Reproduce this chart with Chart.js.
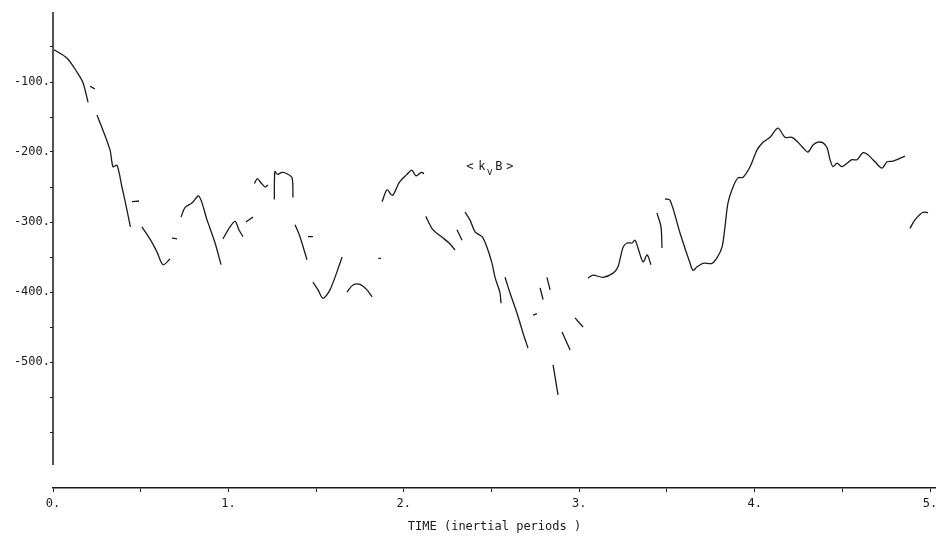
<!DOCTYPE html>
<html>
<head>
<meta charset="utf-8">
<script src="https://cdn.jsdelivr.net/npm/chart.js@4"></script>
<style>
  html, body { margin: 0; padding: 0; background: #fff; }
  #wrap { width: 936px; height: 537px; position: relative; }
</style>
</head>
<body>
<div id="wrap"><canvas id="kvbChart"></canvas></div>
<script>
// time in inertial periods; null in kvb = pen lifted (gap in the trace)
const times = [
  0.006, 0.08, 0.137, 0.171, 0.2, 0.205,
  0.211, 0.239, 0.245,
  0.251, 0.325, 0.342, 0.365, 0.393, 0.41, 0.425, 0.441, 0.445,
  0.45, 0.49, 0.5,
  0.507, 0.564, 0.593, 0.627, 0.667, 0.672,
  0.678, 0.707, 0.72,
  0.73, 0.753, 0.792, 0.832, 0.878, 0.924, 0.958, 0.963,
  0.969, 1.009, 1.038, 1.06, 1.083, 1.09,
  1.1, 1.14, 1.144,
  1.148, 1.165, 1.185, 1.21, 1.225, 1.24,
  1.262, 1.265, 1.28, 1.306, 1.334, 1.363, 1.368, 1.374,
  1.38, 1.408, 1.448, 1.451,
  1.454, 1.482, 1.482,
  1.482, 1.511, 1.539, 1.579, 1.636, 1.648, 1.66,
  1.676, 1.71, 1.75, 1.79, 1.819, 1.84,
  1.855, 1.87, 1.873,
  1.876, 1.905, 1.935, 1.975, 2.018, 2.045, 2.07, 2.1, 2.115, 2.12,
  2.125, 2.166, 2.224, 2.258, 2.292, 2.298,
  2.303, 2.332, 2.34,
  2.349, 2.377, 2.406, 2.446, 2.474, 2.503, 2.52, 2.548, 2.554, 2.565,
  2.577, 2.605, 2.645, 2.68, 2.708, 2.72,
  2.737, 2.759, 2.77,
  2.777, 2.794, 2.805,
  2.816, 2.834, 2.84,
  2.851, 2.879, 2.89,
  2.902, 2.948, 2.96,
  2.976, 3.022, 3.035,
  3.05, 3.079, 3.136, 3.193, 3.221, 3.25, 3.273, 3.301, 3.318, 3.335, 3.364, 3.387, 3.409, 3.425,
  3.443, 3.466, 3.472, 3.48,
  3.489, 3.518, 3.575, 3.632, 3.649, 3.672, 3.706, 3.757, 3.786, 3.814, 3.831, 3.848, 3.877,
  3.905, 3.934, 3.974, 4.014, 4.048, 4.088, 4.133, 4.173, 4.213, 4.247, 4.276, 4.304, 4.333,
  4.361, 4.39, 4.413, 4.43, 4.447, 4.47, 4.498, 4.527, 4.555, 4.584, 4.618, 4.646, 4.686,
  4.726, 4.755, 4.789, 4.829, 4.857, 4.87,
  4.886, 4.914, 4.96, 4.989
];
const kvb = [
  -54, -66, -86, -101, -129, null,
  -106, -110, null,
  -147, -197, -221, -219, -250, -269, -287, -307, null,
  -271, -270, null,
  -307, -329, -343, -361, -353, null,
  -323, -324, null,
  -293, -279, -273, -263, -297, -330, -361, null,
  -324, -307, -299, -311, -321, null,
  -300, -293, null,
  -245, -238, -244, -250, -247, null,
  -268, -228, -232, -229, -231, -237, -265, null,
  -304, -321, -354, null,
  -321, -321, null,
  -386, -397, -409, -397, -359, -350, null,
  -400, -390, -389, -397, -407, null,
  -352, -352, null,
  -271, -254, -262, -243, -232, -226, -234, -229, -231, null,
  -292, -311, -323, -330, -340, null,
  -311, -326, null,
  -286, -297, -314, -321, -336, -359, -379, -401, -416, null,
  -379, -401, -430, -459, -480, null,
  -433, -431, null,
  -394, -411, null,
  -379, -397, null,
  -504, -547, null,
  -457, -483, null,
  -437, -450, null,
  -380, -376, -379, -373, -364, -336, -330, -330, -326, -337, -357, -347, -361, null,
  -287, -307, -337, null,
  -267, -269, -316, -359, -369, -364, -359, -359, -351, -336, -307, -273, -250,
  -237, -236, -221, -197, -186, -179, -166, -179, -179, -186, -194, -200, -190,
  -186, -187, -194, -211, -221, -216, -221, -216, -211, -211, -201, -204, -214,
  -223, -214, -213, -209, -206, null,
  -309, -297, -286, -287
];

const xTicks = [0, 1, 2, 3, 4, 5];
const yTicks = [-100, -200, -300, -400, -500];
const yAxisEnd = -647;
const label = { t: 2.49, v: -221 };

const ink = '#1a1a1a';
const fontFamily = '"DejaVu Sans Mono", "Liberation Mono", monospace';

const extraDraw = {
  id: 'extraDraw',
  afterDraw(chart) {
    const ctx = chart.ctx;
    const xs = chart.scales.x, ys = chart.scales.y;
    ctx.save();
    // vertical axis line, stops short of the time axis as in the plot
    ctx.strokeStyle = ink;
    ctx.lineWidth = 1.5;
    ctx.beginPath();
    ctx.moveTo(chart.chartArea.left, ys.getPixelForValue(0));
    ctx.lineTo(chart.chartArea.left, ys.getPixelForValue(yAxisEnd));
    ctx.stroke();
    // <k_v B> label
    const px = xs.getPixelForValue(label.t);
    const py = ys.getPixelForValue(label.v);
    ctx.fillStyle = ink;
    ctx.textBaseline = 'middle';
    ctx.textAlign = 'center';
    ctx.font = '12px ' + fontFamily;
    ctx.fillText('<', px - 20, py);
    ctx.fillText('k', px - 8, py);
    ctx.fillText('B', px + 9, py);
    ctx.fillText('>', px + 20, py);
    ctx.font = '10px ' + fontFamily;
    ctx.fillText('v', px, py + 6);
    ctx.restore();
  }
};

const ctx = document.getElementById('kvbChart').getContext('2d');
new Chart(ctx, {
  type: 'line',
  data: {
    datasets: [{
      label: '<kvB>',
      data: times.map((t, i) => ({ x: t, y: kvb[i] })),
      borderColor: ink,
      borderWidth: 1.3,
      pointRadius: 0,
      tension: 0.3,
      spanGaps: false,
      fill: false
    }]
  },
  options: {
    responsive: true,
    maintainAspectRatio: false,
    animation: false,
    layout: { padding: { top: 12, left: 0, right: 0, bottom: 0 } },
    plugins: {
      legend: { display: false },
      tooltip: { enabled: false }
    },
    scales: {
      x: {
        type: 'linear',
        min: 0,
        max: 5.034,
        afterFit(scale) {
          scale.height = 49;
          scale.paddingLeft = 0;
          scale.paddingRight = 0;
        },
        afterBuildTicks(scale) {
          const tk = [];
          for (let v = 0; v <= 5; v += 0.5) tk.push({ value: v });
          scale.ticks = tk;
        },
        ticks: {
          autoSkip: false,
          maxRotation: 0,
          padding: 5,
          color: ink,
          font: { family: fontFamily, size: 12 },
          callback: v => xTicks.includes(v) ? v + '.' : ''
        },
        grid: {
          display: true,
          drawOnChartArea: false,
          drawTicks: true,
          tickLength: 4,
          tickColor: ink
        },
        border: { display: true, color: ink, width: 1.5 },
        title: {
          display: true,
          text: 'TIME (inertial periods )',
          color: ink,
          font: { family: fontFamily, size: 12 },
          padding: { top: 0, bottom: 3 }
        }
      },
      y: {
        type: 'linear',
        min: -680,
        max: 0,
        afterFit(scale) {
          scale.width = 53;
          scale.paddingTop = 0;
          scale.paddingBottom = 0;
        },
        afterBuildTicks(scale) {
          const tk = [];
          for (let v = -50; v >= -600; v -= 50) tk.push({ value: v });
          scale.ticks = tk;
        },
        ticks: {
          autoSkip: false,
          padding: 0,
          color: ink,
          font: { family: fontFamily, size: 12 },
          callback: v => yTicks.includes(v) ? v + '.' : ''
        },
        grid: {
          display: true,
          drawOnChartArea: false,
          drawTicks: true,
          tickLength: 3,
          tickColor: ink
        },
        border: { display: false }
      }
    }
  },
  plugins: [extraDraw]
});
</script>
</body>
</html>
